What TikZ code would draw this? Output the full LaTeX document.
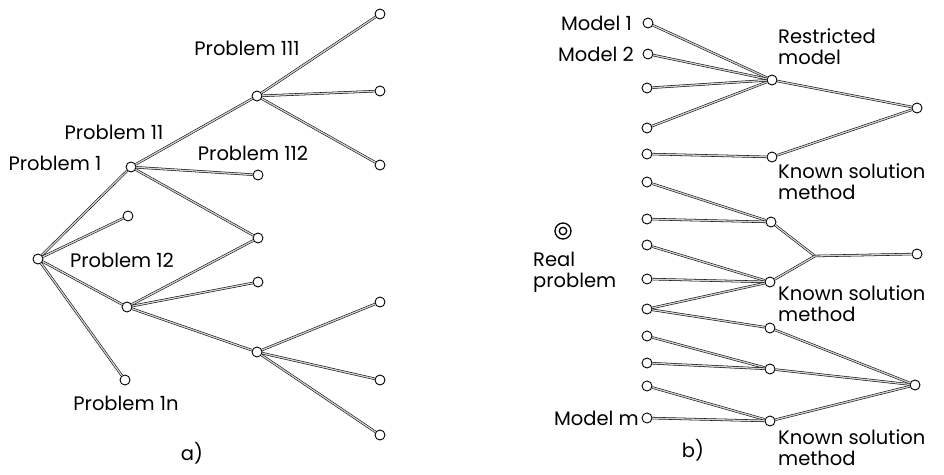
\documentclass[tikz,border=0pt]{standalone}
\usepackage{fontspec}
\setmainfont{Poppins}
\begin{document}
\begin{tikzpicture}[x=1pt,y=-1pt,
  nd/.style={circle,draw,fill=white,inner sep=0pt,minimum size=10pt,line width=0.9pt},
  ln/.style={draw,line width=0.55pt,double=gray!35,double distance=1.3pt},
  lbl/.style={font=\fontsize{19.5}{21}\selectfont,inner sep=0pt},
  ml/.style={lbl,align=left,anchor=west}]
\useasboundingbox (0,0) rectangle (944,474);
% ---------------- a) ----------------
\node[nd] (r) at (38,259) {};
\node[nd] (p1) at (131,167) {};
\node[nd] (p111) at (257,96) {};
\node[nd] (l1) at (380,14) {};
\node[nd] (l2) at (380,91) {};
\node[nd] (l3) at (380,165) {};
\node[nd] (p112) at (258,175) {};
\node[nd] (m1) at (258,238) {};
\node[nd] (l4) at (128,216) {};
\node[nd] (p12) at (127,307) {};
\node[nd] (l5) at (258,282) {};
\node[nd] (q) at (257,352) {};
\node[nd] (l6) at (380,302) {};
\node[nd] (l7) at (380,380) {};
\node[nd] (l8) at (380,435) {};
\node[nd] (p1n) at (125,380) {};
\path[ln] (r) -- (p1);
\path[ln] (r) -- (l4);
\path[ln] (r) -- (p12);
\path[ln] (r) -- (p1n);
\path[ln] (p1) -- (p111);
\path[ln] (p1) -- (p112);
\path[ln] (p1) -- (m1);
\path[ln] (p111) -- (l1);
\path[ln] (p111) -- (l2);
\path[ln] (p111) -- (l3);
\path[ln] (p12) -- (m1);
\path[ln] (p12) -- (l5);
\path[ln] (p12) -- (q);
\path[ln] (q) -- (l6);
\path[ln] (q) -- (l7);
\path[ln] (q) -- (l8);
\node[lbl] (t111) at (247,48) {Problem 111};
\node[lbl] (t11) at (114,132) {Problem 11};
\node[lbl] (t1) at (55,163) {Problem 1};
\node[lbl] (t112) at (253,153) {Problem 112};
\node[lbl] (t12) at (122,260) {Problem 12};
\node[lbl] (t1n) at (126,403) {Problem 1n};
\node[lbl] (ta) at (192,453) {a)};
% ---------------- b) ----------------
\node[nd] (b1) at (648,23) {};
\node[nd] (b2) at (648,54) {};
\node[nd] (b3) at (647,88) {};
\node[nd] (b4) at (647,128) {};
\node[nd] (b5) at (647,154) {};
\node[nd] (b6) at (647,182) {};
\node[nd] (b7) at (647,219) {};
\node[nd] (b8) at (647,245) {};
\node[nd] (b9) at (647,279) {};
\node[nd] (b10) at (647,309) {};
\node[nd] (b11) at (647,336) {};
\node[nd] (b12) at (647,363) {};
\node[nd] (b13) at (647,386) {};
\node[nd] (bm) at (647,418) {};
\node[nd] (rm) at (772,80) {};
\node[nd] (k1) at (772,157) {};
\node[nd] (bb) at (771,222) {};
\node[nd] (c) at (770,282) {};
\node[nd] (e) at (770,328) {};
\node[nd] (f) at (770,369) {};
\node[nd] (g) at (770,421) {};
\node[nd] (ra) at (917,108) {};
\node[nd] (rd) at (917,254) {};
\node[nd] (rh) at (915,385) {};
\coordinate (j) at (815,256);
\path[ln] (b1) -- (rm);
\path[ln] (b2) -- (rm);
\path[ln] (b3) -- (rm);
\path[ln] (b4) -- (rm);
\path[ln] (rm) -- (ra);
\path[ln] (k1) -- (ra);
\path[ln] (b5) -- (k1);
\path[ln] (b6) -- (bb);
\path[ln] (b7) -- (bb);
\path[ln] (bb) -- (j);
\path[ln] (c) -- (j);
\path[ln] (j) -- (rd);
\path[ln] (b8) -- (c);
\path[ln] (b9) -- (c);
\path[ln] (b10) -- (c);
\path[ln] (b10) -- (e);
\path[ln] (e) -- (rh);
\path[ln] (b11) -- (f);
\path[ln] (b12) -- (f);
\path[ln] (f) -- (rh);
\path[ln] (b13) -- (g);
\path[ln] (bm) -- (g);
\path[ln] (g) -- (rh);
\node[circle,draw,line width=1.3pt,inner sep=0pt,minimum size=16pt] (rp) at (563,231) {};
\node[circle,draw,line width=1.3pt,inner sep=0pt,minimum size=7.5pt] (rpi) at (563,231) {};
\node[lbl,anchor=east] (tm1) at (632,23) {Model 1};
\node[lbl,anchor=east] (tm2) at (634,54) {Model 2};
\node[lbl,anchor=east] (tmm) at (639,418) {Model m};
\node[ml] (trm) at (778,47) {Restricted\\model};
\node[ml] (tk1) at (778,182) {Known solution\\method};
\node[ml] (tk2) at (778,304) {Known solution\\method};
\node[ml] (tk3) at (778,448) {Known solution\\method};
\node[ml] (trp) at (533,272) {Real\\problem};
\node[lbl] (tb) at (693,450) {b)};
\end{tikzpicture}
\end{document}
